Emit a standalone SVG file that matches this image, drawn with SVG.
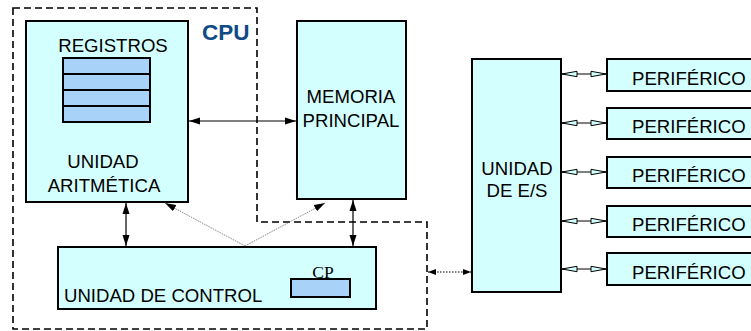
<svg xmlns="http://www.w3.org/2000/svg" width="751" height="331" viewBox="0 0 751 331">
<style>
.box{fill:#d4ffff;stroke:#000;stroke-width:2}
.reg{fill:#a9d2f9;stroke:#000;stroke-width:2}
.t{font-family:"Liberation Sans",Arial,sans-serif;font-size:18.6px;fill:#000}
.c{text-anchor:middle}
.solid{stroke:#000;stroke-width:1.2;fill:none}
.thin{stroke:#666;stroke-width:0.8;fill:none;stroke-dasharray:1.5 1}
.dot{stroke:#000;stroke-width:1;fill:none;stroke-dasharray:1.5 1.5}
.open{stroke:#000;stroke-width:1;fill:none}
</style>
<defs>
<marker id="ah" markerUnits="userSpaceOnUse" markerWidth="12" markerHeight="8" refX="11" refY="4" orient="auto-start-reverse" viewBox="0 0 12 8">
<path d="M0,0.5 L11,4 L0,7.5 Z" fill="#000"/>
</marker>
<marker id="ahs" markerUnits="userSpaceOnUse" markerWidth="9" markerHeight="7" refX="8" refY="3.5" orient="auto-start-reverse" viewBox="0 0 9 7">
<path d="M0,0.5 L8,3.5 L0,6.5 Z" fill="#000"/>
</marker>
<marker id="oh" markerUnits="userSpaceOnUse" markerWidth="17" markerHeight="8" refX="16" refY="4" orient="auto-start-reverse" viewBox="0 0 17 8">
<path d="M1,1.3 L16,4 L1,6.7 Z" fill="#d4ffff" stroke="#000" stroke-width="1"/>
</marker>
</defs>

<g id="cpu-boundary">
<path d="M13,8 H257 V222 H427 V329 H13 Z" fill="none" stroke="#000" stroke-width="1.6" stroke-dasharray="7 4"/>
<text x="202" y="40" font-family="'Liberation Sans',Arial,sans-serif" font-size="22.5" font-weight="bold" fill="#0d4a86">CPU</text>
</g>

<g id="alu">
<rect class="box" x="26" y="21" width="162" height="181"/>
<text class="t c" x="113" y="52">REGISTROS</text>
<rect class="reg" x="63" y="58" width="87" height="16"/>
<rect class="reg" x="63" y="74" width="87" height="16"/>
<rect class="reg" x="63" y="90" width="87" height="16"/>
<rect class="reg" x="63" y="106" width="87" height="16"/>
<text class="t c" x="103" y="168">UNIDAD</text>
<text class="t c" x="104" y="192">ARITMÉTICA</text>
</g>

<g id="memoria">
<rect class="box" x="297" y="21" width="109" height="178"/>
<text class="t c" x="351" y="103">MEMORIA</text>
<text class="t c" x="351" y="127">PRINCIPAL</text>
</g>

<g id="control">
<rect class="box" x="58" y="247" width="318" height="62"/>
<text class="t" x="64" y="302">UNIDAD DE CONTROL</text>
<rect class="reg" x="291" y="279" width="59" height="18"/>
<text x="323" y="278" text-anchor="middle" font-family="'Liberation Serif','Times New Roman',serif" font-size="17.5" fill="#000">CP</text>
</g>

<g id="es">
<rect class="box" x="472" y="59" width="89" height="233"/>
<text class="t c" x="517" y="175">UNIDAD</text>
<text class="t c" x="517" y="197">DE E/S</text>
</g>

<g id="perifericos">
<g id="p1"><rect class="box" x="607" y="59" width="150" height="32"/><text class="t" x="632" y="85">PERIFÉRICO</text></g>
<g id="p2"><rect class="box" x="607" y="108" width="150" height="31"/><text class="t" x="632" y="133">PERIFÉRICO</text></g>
<g id="p3"><rect class="box" x="607" y="157" width="150" height="31"/><text class="t" x="632" y="182">PERIFÉRICO</text></g>
<g id="p4"><rect class="box" x="607" y="206" width="150" height="31"/><text class="t" x="632" y="231">PERIFÉRICO</text></g>
<g id="p5"><rect class="box" x="607" y="253" width="150" height="32"/><text class="t" x="632" y="279">PERIFÉRICO</text></g>
</g>

<g id="connectors">
<line class="solid" x1="189" y1="121" x2="296" y2="121" marker-start="url(#ah)" marker-end="url(#ah)"/>
<line class="solid" x1="126" y1="203" x2="126" y2="246" marker-start="url(#ah)" marker-end="url(#ah)"/>
<line class="solid" x1="353" y1="200" x2="353" y2="246" marker-start="url(#ah)" marker-end="url(#ah)"/>
<line class="thin" x1="245" y1="246" x2="165" y2="203" marker-end="url(#ah)"/>
<line class="thin" x1="245" y1="246" x2="325" y2="203" marker-end="url(#ah)"/>
<line class="dot" x1="428" y1="272" x2="471" y2="272" marker-start="url(#ahs)" marker-end="url(#ahs)"/>
<line class="open" x1="562" y1="74" x2="606" y2="74" marker-start="url(#oh)" marker-end="url(#oh)"/>
<line class="open" x1="562" y1="123" x2="606" y2="123" marker-start="url(#oh)" marker-end="url(#oh)"/>
<line class="open" x1="562" y1="172" x2="606" y2="172" marker-start="url(#oh)" marker-end="url(#oh)"/>
<line class="open" x1="562" y1="221" x2="606" y2="221" marker-start="url(#oh)" marker-end="url(#oh)"/>
<line class="open" x1="562" y1="269" x2="606" y2="269" marker-start="url(#oh)" marker-end="url(#oh)"/>
</g>
</svg>
